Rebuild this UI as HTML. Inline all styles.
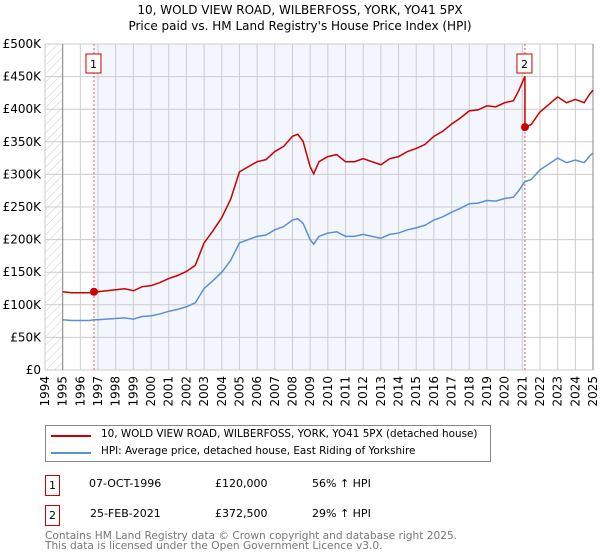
<!DOCTYPE html>
<html><head><meta charset="utf-8"><style>
body{margin:0;background:#fff;font-family:"DejaVu Sans","Liberation Sans",sans-serif;}
#wrap{position:relative;width:600px;height:560px;overflow:hidden;}
.t{position:absolute;font-size:11px;color:#000;white-space:nowrap;}
.box{position:absolute;border:1px solid #c00;width:13px;height:19px;font-size:11px;text-align:center;line-height:19px;}
</style></head><body><div id="wrap">
<svg id="svg" width="600" height="420" style="position:absolute;left:0;top:0">
<defs><pattern id="hatch" width="6" height="6" patternUnits="userSpaceOnUse" patternTransform="rotate(45)"><line x1="0" y1="0" x2="0" y2="6" stroke="#ccc" stroke-width="1"/></pattern></defs>
<text x="300" y="14" text-anchor="middle" font-size="12" font-family="DejaVu Sans,sans-serif">10, WOLD VIEW ROAD, WILBERFOSS, YORK, YO41 5PX</text>
<text x="300" y="30" text-anchor="middle" font-size="12" font-family="DejaVu Sans,sans-serif">Price paid vs. HM Land Registry's House Price Index (HPI)</text>
<g id="g"></g>
</svg>
<div style="position:absolute;left:45px;top:425px;width:444px;height:35px;border:1px solid #888;">
<div style="position:absolute;left:5px;top:9px;width:40px;height:2px;background:#c00"></div>
<div class="t" style="left:55px;top:2px;font-size:10.4px">10, WOLD VIEW ROAD, WILBERFOSS, YORK, YO41 5PX (detached house)</div>
<div style="position:absolute;left:5px;top:26px;width:40px;height:2px;background:#5b8fd4"></div>
<div class="t" style="left:55px;top:19px;font-size:10.4px">HPI: Average price, detached house, East Riding of Yorkshire</div>
</div>
<div class="box" style="left:45px;top:475px">1</div>
<div class="t" style="left:89px;top:477px">07-OCT-1996</div>
<div class="t" style="left:215px;top:477px">£120,000</div>
<div class="t" style="left:312px;top:477px">56% ↑ HPI</div>
<div class="box" style="left:45px;top:505px">2</div>
<div class="t" style="left:90px;top:507px">25-FEB-2021</div>
<div class="t" style="left:215px;top:507px">£372,500</div>
<div class="t" style="left:312px;top:507px">29% ↑ HPI</div>
<div class="t" style="left:45px;top:531px;color:#777;line-height:10px;font-size:10.6px">Contains HM Land Registry data © Crown copyright and database right 2025.<br>This data is licensed under the Open Government Licence v3.0.</div>
</div>
<script>
const hpiYears=[1995,1995.5,1996,1996.5,1996.77,1997,1997.5,1998,1998.5,1999,1999.5,2000,2000.5,2001,2001.5,2002,2002.5,2003,2003.5,2004,2004.5,2005,2005.5,2006,2006.5,2007,2007.5,2008,2008.3,2008.6,2009,2009.2,2009.5,2010,2010.5,2011,2011.5,2012,2012.5,2013,2013.5,2014,2014.5,2015,2015.5,2016,2016.5,2017,2017.5,2018,2018.5,2019,2019.5,2020,2020.5,2020.8,2021.15,2021.5,2022,2022.5,2023,2023.5,2024,2024.5,2024.8,2025];
const hpiValues=[77,76,76,76,77,77,78,79,80,78,82,83,86,90,93,97,103,125,137,150,168,195,200,205,207,215,220,230,232,225,200,193,205,210,212,205,205,208,205,202,208,210,215,218,222,230,235,242,248,255,256,260,259,263,265,275,289,292,307,316,325,318,322,318,328,333];
const saleYears=[1996.77,2021.15];
const salePrices=[120,372.5];
const saleLabels=["1","2"];
const yTicks=[0,50,100,150,200,250,300,350,400,450,500];
const xTicks=[1994,1995,1996,1997,1998,1999,2000,2001,2002,2003,2004,2005,2006,2007,2008,2009,2010,2011,2012,2013,2014,2015,2016,2017,2018,2019,2020,2021,2022,2023,2024,2025];
const X0=45,X1=593,Y0=370,Y1=44;
const xs=v=>X0+(v-1994)*(X1-X0)/31;
const ys=v=>Y0-(v/500)*(Y0-Y1);
const g=document.getElementById('g');
const NS='http://www.w3.org/2000/svg';
function mk(t,a){const e=document.createElementNS(NS,t);for(const k in a)e.setAttribute(k,a[k]);g.appendChild(e);return e;}
let e;
e=mk('rect',{x:xs(saleYears[0]),y:Y1,width:xs(saleYears[1])-xs(saleYears[0]),height:Y0-Y1,fill:'#f3f6fd'});


e=mk('rect',{x:X0,y:Y1,width:xs(1995)-X0,height:Y0-Y1,fill:'url(#hatch)'});


yTicks.forEach(v=>{
 e=mk('line',{x1:X0,x2:X1,y1:ys(v),y2:ys(v),stroke:'#ccc','stroke-width':1});
 
 
 e=mk('text',{x:X0-4,y:ys(v)+4,'text-anchor':'end','font-size':12,'font-family':'DejaVu Sans,sans-serif'});
 e.textContent=v===0?'£0':'£'+v+'K';
 
 
});
xTicks.forEach(v=>{
 e=mk('line',{x1:xs(v),x2:xs(v),y1:Y1,y2:Y0,stroke:'#ccc','stroke-width':1});
 
 
 e=mk('text',{x:0,y:0,'text-anchor':'end','font-size':12,'font-family':'DejaVu Sans,sans-serif',transform:`translate(${xs(v)+4},${Y0+6}) rotate(-90)`});
 e.textContent=v;
 
 
});
e=mk('line',{x1:xs(1995),x2:xs(1995),y1:Y1,y2:Y0,stroke:'#888'});


e=mk('line',{x1:X1,x2:X1,y1:Y1,y2:Y0,stroke:'#888'});


saleYears.forEach((s,i)=>{
 e=mk('line',{x1:xs(s),x2:xs(s),y1:Y1,y2:Y0,stroke:'#e06060','stroke-dasharray':'2,2'});
 
 
});
function hpiAt(y){for(let i=1;i<hpiYears.length;i++){if(y<=hpiYears[i]){const t=(y-hpiYears[i-1])/(hpiYears[i]-hpiYears[i-1]);return hpiValues[i-1]+t*(hpiValues[i]-hpiValues[i-1]);}}return hpiValues[hpiValues.length-1];}
e=mk('polyline',{points:hpiYears.map((y,i)=>xs(y)+','+ys(hpiValues[i])).join(' '),fill:'none',stroke:'#5b8fd4','stroke-width':1.5});


const pts=[];
hpiYears.forEach((y,i)=>{
 let k=0;for(let j=0;j<saleYears.length;j++)if(y>=saleYears[j]-0.05)k=j;
 if(y<saleYears[0])k=0;
 const r=salePrices[k]/hpiAt(saleYears[k]);
 if(k===1&&Math.abs(y-saleYears[1])<0.06){pts.push(xs(y)+','+ys(hpiAt(y)*salePrices[0]/hpiAt(saleYears[0])));}
 pts.push(xs(y)+','+ys(hpiValues[i]*r));
});
e=mk('polyline',{points:pts.join(' '),fill:'none',stroke:'#c00','stroke-width':1.5});


saleYears.forEach((s,i)=>{
 e=mk('circle',{cx:xs(s),cy:ys(salePrices[i]),r:4,fill:'#c00'});
 
 
 e=mk('rect',{x:xs(s)-8,y:54,width:15,height:19,fill:'#fff',stroke:'#c00'});
 
 
 e=mk('text',{x:xs(s)-0.5,y:68,'text-anchor':'middle','font-size':11,'font-family':'DejaVu Sans,sans-serif'});
 e.textContent=saleLabels[i];
 
 
});
</script>
</body></html>
